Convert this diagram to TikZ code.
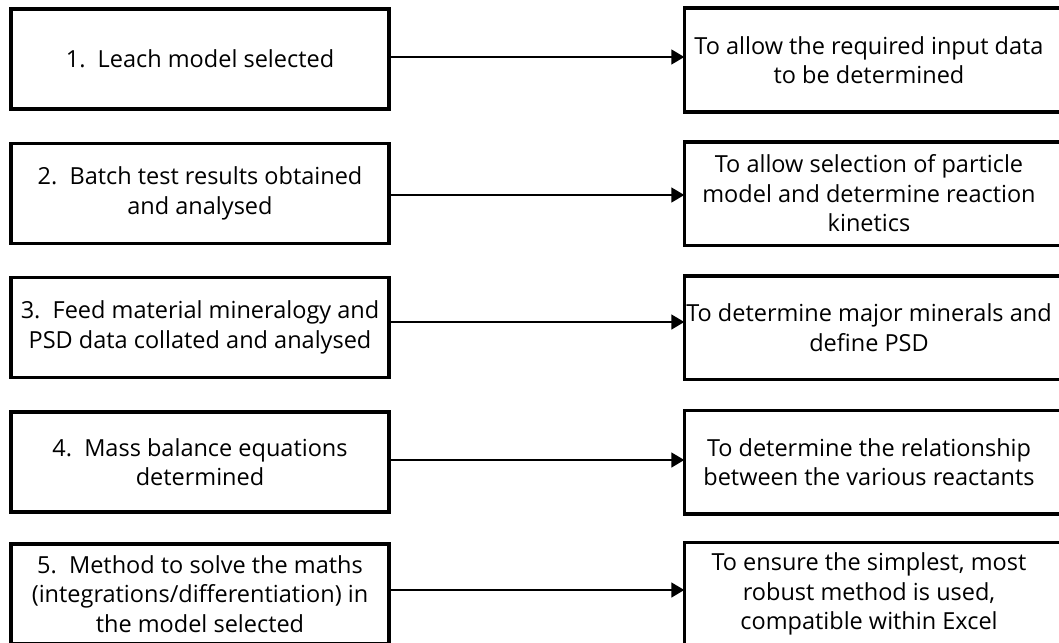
\documentclass[tikz,border=0pt]{standalone}
\usepackage{fontspec}
\setmainfont{Open Sans}
\usetikzlibrary{arrows.meta}
\begin{document}
\begin{tikzpicture}[x=1pt,y=-1pt,
  box/.style={line width=3.5pt,minimum height=100pt,inner sep=0pt,align=center,
    font=\fontsize{23.5}{29.5}\selectfont,text=black},
  lbox/.style={box,draw=black,minimum width=378pt},
  rbox/.style={box,minimum width=366pt},
  frame/.style={draw=black,line width=3.5pt},
  arr/.style={line width=1.8pt,-{Triangle[length=13pt,width=15pt]}}]
\useasboundingbox (0,0) rectangle (1059,642);
\clip (0,0) rectangle (1059,642);
\fill[white] (0,0) rectangle (1059,642);
\node[lbox] (l1) at (200,59) {1.\ \ Leach model selected};
\node[lbox] (l2) at (200,193.5) {2.\ \ Batch test results obtained\\and analysed};
\node[lbox] (l3) at (200,327.5) {3.\ \ Feed material mineralogy and\\PSD data collated and analysed};
\node[lbox] (l4) at (200,462) {4.\ \ Mass balance equations\\determined};
\node[lbox] (l5) at (200,594) {5.\ \ Method to solve the maths\\(integrations/differentiation) in\\the model selected};
\node[rbox] (r1) at (869,60) {To allow the required input data\\to be determined};
\node[rbox] (r2) at (869,193.5) {To allow selection of particle\\model and determine reaction\\kinetics};
\node[rbox] (r3) at (869,327.5) {To determine major minerals and\\define PSD};
\node[rbox] (r4) at (869,462) {To determine the relationship\\between the various reactants};
\node[rbox] (r5) at (869,594) {To ensure the simplest, most\\robust method is used,\\compatible within Excel};
\foreach \n in {r1,r2,r3,r4,r5}
  \draw[frame] (\n.north west) rectangle ([xshift=15pt]\n.south east);
\draw[arr] ([yshift=2pt]l1.east) -- ([yshift=2pt]l1.east -| r1.west);
\draw[arr] ([yshift=-1.5pt]l2.east) -- ([yshift=-1.5pt]l2.east -| r2.west);
\draw[arr] ([yshift=5.5pt]l3.east) -- ([yshift=5.5pt]l3.east -| r3.west);
\draw[arr] ([yshift=2pt]l4.east) -- ([yshift=2pt]l4.east -| r4.west);
\draw[arr] ([yshift=4pt]l5.east) -- ([yshift=4pt]l5.east -| r5.west);
\end{tikzpicture}
\end{document}
